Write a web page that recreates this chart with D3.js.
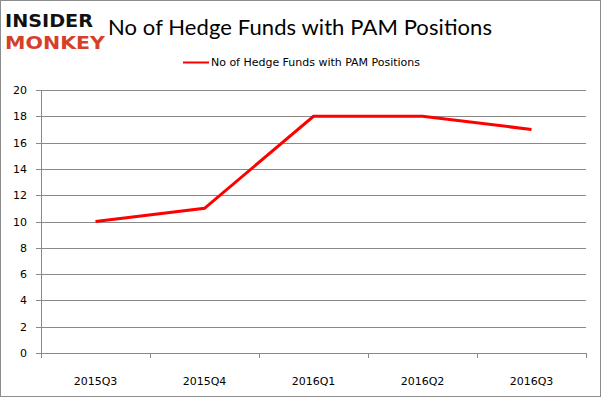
<!DOCTYPE html>
<meta charset="utf-8">
<style>
    body { margin: 0; background: #fff; }
    .axis path, .axis line { fill: none; stroke: #898989; shape-rendering: crispEdges; }
    .axis text { font: 11px "DejaVu Sans", sans-serif; fill: #000; }
    .grid line { stroke: #898989; shape-rendering: crispEdges; }
    .grid path { display: none; }
</style>
<svg width="602" height="398"></svg>
<script src="https://d3js.org/d3.v7.min.js"></script>
<script>
    var quarters = ["2015Q3", "2015Q4", "2016Q1", "2016Q2", "2016Q3"];
    var funds = [10, 11, 18, 18, 17];
    var yTicks = [0, 2, 4, 6, 8, 10, 12, 14, 16, 18, 20];
    var seriesName = "No of Hedge Funds with PAM Positions";

    var svg = d3.select("svg"),
        margin = {top: 90, right: 16, bottom: 45, left: 41},
        width = +svg.attr("width") - margin.left - margin.right,
        height = +svg.attr("height") - margin.top - margin.bottom;

    // outer frame
    svg.append("rect")
        .attr("x", 0.5).attr("y", 0.5)
        .attr("width", 600).attr("height", 396)
        .attr("fill", "#fff").attr("stroke", "#8c8c8c");

    // logo
    svg.append("text")
        .attr("x", 5).attr("y", 27)
        .style("font", "bold 18px 'DejaVu Sans', sans-serif")
        .attr("fill", "#111")
        .attr("textLength", 88)
        .attr("lengthAdjust", "spacingAndGlyphs")
        .text("INSIDER");
    svg.append("text")
        .attr("x", 5).attr("y", 49)
        .style("font", "bold 18px 'DejaVu Sans', sans-serif")
        .attr("fill", "#d5402b")
        .attr("textLength", 100)
        .attr("lengthAdjust", "spacingAndGlyphs")
        .text("MONKEY");

    svg.append("text")
        .attr("x", 108).attr("y", 35)
        .style("font", "22px Lato, sans-serif")
        .attr("textLength", 384)
        .text(seriesName);

    // legend
    svg.append("line")
        .attr("x1", 183).attr("x2", 209)
        .attr("y1", 62.5).attr("y2", 62.5)
        .attr("stroke", "#ff0000").attr("stroke-width", 2);
    svg.append("text")
        .attr("x", 211).attr("y", 66)
        .style("font", "11px 'DejaVu Sans', sans-serif")
        .attr("textLength", 209)
        .text(seriesName);

    var x = d3.scaleBand().domain(quarters).range([0, width]);
    var y = d3.scaleLinear().domain([0, 20]).range([height, 0]);

    var g = svg.append("g")
        .attr("transform", "translate(" + margin.left + "," + margin.top + ")");

    g.append("g")
        .attr("class", "grid")
        .call(d3.axisLeft(y).tickValues(yTicks).tickSize(-width).tickFormat(""));

    g.append("g")
        .attr("class", "y axis")
        .call(d3.axisLeft(y).tickValues(yTicks).tickSize(5).tickSizeOuter(0).tickPadding(9));

    var xAxis = g.append("g")
        .attr("class", "x axis")
        .attr("transform", "translate(0," + height + ")")
        .call(d3.axisBottom(x).tickSize(0).tickPadding(24));

    xAxis.selectAll(".sep")
        .data(d3.range(quarters.length + 1))
        .enter().append("line")
        .attr("class", "sep")
        .attr("x1", function(i) { return x.step() * i; })
        .attr("x2", function(i) { return x.step() * i; })
        .attr("y1", 0).attr("y2", 5);

    var line = d3.line()
        .x(function(d, i) { return x(quarters[i]) + x.bandwidth() / 2; })
        .y(function(d) { return y(d); });

    g.append("path")
        .datum(funds)
        .attr("fill", "none")
        .attr("stroke", "#ff0000")
        .attr("stroke-width", 3)
        .attr("d", line);
</script>
